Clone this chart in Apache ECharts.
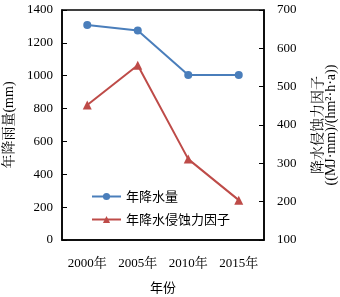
<!DOCTYPE html>
<html><head><meta charset="utf-8">
<script src="https://cdn.jsdelivr.net/npm/echarts@6/dist/echarts.min.js"></script>
<style>html,body{margin:0;padding:0;background:#fff}#c{width:340px;height:297px}</style>
</head><body><div id="c"></div>
<script>
var categories = ['2000年', '2005年', '2010年', '2015年'];
var rainfall = [1308, 1275, 1005, 1005];
var erosivity = [452, 556, 311, 204];
var seriesNames = ['年降水量', '年降水侵蚀力因子'];

var serif = '"Liberation Serif","Times New Roman","Noto Serif CJK SC","Noto Sans CJK SC",serif';
var chart = echarts.init(document.getElementById('c'), null, {renderer: 'canvas'});
chart.setOption({
  animation: false,
  backgroundColor: '#fff',
  grid: {left: 62, right: 76, top: 10, bottom: 57, show: true, borderColor: '#000', borderWidth: 1.5, outerBoundsMode: 'none', containLabel: false},
  legend: {
    orient: 'vertical', left: 86, top: 185, itemGap: 10, itemWidth: 29, itemHeight: 9,
    textStyle: {fontFamily: '"Noto Sans CJK SC",sans-serif', fontSize: 13, color: '#000'},
    data: seriesNames
  },
  xAxis: {
    type: 'category', data: categories, boundaryGap: true,
    name: '年份', nameLocation: 'middle', nameGap: 41,
    nameTextStyle: {fontFamily: '"Noto Sans CJK SC",sans-serif', fontSize: 13, color: '#000'},
    axisLine: {lineStyle: {color: '#000', width: 1.5}},
    axisTick: {inside: true, length: 5, lineStyle: {color: '#000'}},
    axisLabel: {interval: 0, margin: 17, fontFamily: serif, fontSize: 13, color: '#000'},
    splitLine: {show: false}
  },
  yAxis: [{
    type: 'value', min: 0, max: 1400, interval: 200, position: 'left',
    name: '年降雨量(mm)', nameLocation: 'middle', nameGap: 43, nameRotate: 90,
    nameTextStyle: {fontFamily: serif, fontSize: 14, color: '#000'},
    axisLine: {show: true, lineStyle: {color: '#000', width: 1.5}},
    axisTick: {show: true, inside: true, length: 5, lineStyle: {color: '#000'}},
    axisLabel: {margin: 9, fontFamily: serif, fontSize: 13, color: '#000', formatter: function (v) { return String(v); }},
    splitLine: {show: false}
  }, {
    type: 'value', min: 100, max: 700, interval: 100, position: 'right',
    name: '降水侵蚀力因子\n((MJ·mm)/(hm²·h·a))', nameLocation: 'middle', nameGap: 48, nameRotate: 90,
    nameTextStyle: {fontFamily: serif, fontSize: 14, color: '#000', lineHeight: 13},
    axisLine: {show: true, lineStyle: {color: '#000', width: 1.5}},
    axisTick: {show: true, inside: true, length: 5, lineStyle: {color: '#000'}},
    axisLabel: {margin: 13, fontFamily: serif, fontSize: 13, color: '#000', formatter: function (v) { return String(v); }},
    splitLine: {show: false}
  }],
  series: [{
    name: seriesNames[0], type: 'line', yAxisIndex: 0, data: rainfall,
    symbol: 'circle', symbolSize: 8,
    lineStyle: {color: '#4a7ebb', width: 2}, itemStyle: {color: '#4a7ebb'}
  }, {
    name: seriesNames[1], type: 'line', yAxisIndex: 1, data: erosivity,
    symbol: 'triangle', symbolSize: 9,
    lineStyle: {color: '#be4b48', width: 2}, itemStyle: {color: '#be4b48'}
  }]
});
</script></body></html>
